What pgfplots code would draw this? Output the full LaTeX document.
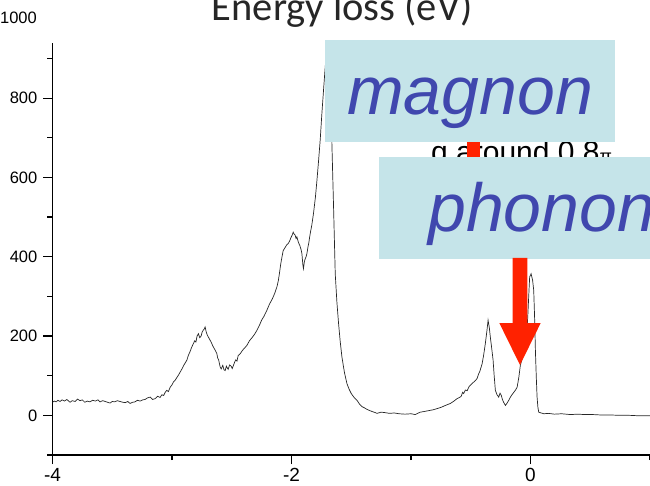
\documentclass[border=0pt]{standalone}
\usepackage{pgfplots}
\pgfplotsset{compat=1.18}
\usepackage{fontspec}
\setmainfont{Liberation Sans}
\newfontfamily\calibri{Carlito}
\definecolor{boxc}{HTML}{C5E4E9}
\definecolor{txtblue}{HTML}{4047AE}
\definecolor{arrred}{HTML}{FF2200}
\begin{document}
\begin{tikzpicture}[x=1pt,y=1pt]
\useasboundingbox (0,0) rectangle (650,485);
\begin{axis}[
  at={(52.5pt,30pt)}, anchor=south west,
  scale only axis, width=597.5pt, height=412.4pt,
  xmin=-4, xmax=1, ymin=-100, ymax=940,
  axis x line*=bottom, axis y line*=left,
  axis line style={line width=1.4pt, -},
  xtick={-4,-2,0}, minor xtick={-3,-1,1},
  ytick={0,200,400,600,800}, minor ytick={-100,100,300,500,700,900},
  tick align=outside, major tick length=9pt, minor tick length=5pt,
  every tick/.style={line width=1.2pt, black},
  /pgf/number format/assume math mode=true,
  yticklabel style={font=\fontsize{16.5}{18}\selectfont, inner sep=0pt, xshift=-6pt},
  xticklabel style={font=\fontsize{19}{20}\selectfont, inner sep=0pt, yshift=-4pt},
]
\addplot[black!85, line width=0.7pt] table {
x y
-4.000 33
-3.985 36
-3.970 34
-3.955 38
-3.937 35
-3.920 39
-3.900 36
-3.880 40
-3.853 33
-3.835 37
-3.810 35
-3.790 41
-3.770 37
-3.750 39
-3.730 33
-3.710 36
-3.686 34
-3.665 38
-3.640 36
-3.620 39
-3.602 34
-3.580 37
-3.560 35
-3.540 33
-3.518 31
-3.500 35
-3.480 34
-3.458 37
-3.435 35
-3.412 33
-3.390 32
-3.370 35
-3.351 30
-3.330 33
-3.310 34
-3.290 38
-3.267 36
-3.245 39
-3.225 40
-3.205 44
-3.183 46
-3.162 40
-3.142 42
-3.120 48
-3.100 45
-3.085 52
-3.070 50
-3.057 58
-3.044 63
-3.030 60
-3.015 71
-3.000 77
-2.988 84
-2.975 88
-2.960 95
-2.945 102
-2.932 109
-2.915 118
-2.900 127
-2.888 133
-2.876 139
-2.862 152
-2.850 160
-2.835 172
-2.821 181
-2.810 188
-2.800 185
-2.790 200
-2.779 206
-2.768 196
-2.756 200
-2.748 210
-2.740 214
-2.730 218
-2.723 223
-2.715 212
-2.708 205
-2.700 200
-2.695 197
-2.682 190
-2.670 183
-2.660 176
-2.653 172
-2.640 165
-2.625 156
-2.618 145
-2.610 140
-2.597 122
-2.588 117
-2.575 126
-2.565 115
-2.555 113
-2.545 124
-2.540 121
-2.530 116
-2.518 127
-2.505 124
-2.496 118
-2.486 126
-2.476 134
-2.466 140
-2.456 137
-2.446 151
-2.430 155
-2.410 164
-2.392 170
-2.374 176
-2.352 188
-2.330 196
-2.310 204
-2.290 214
-2.270 226
-2.250 240
-2.230 250
-2.206 265
-2.185 280
-2.160 294
-2.140 308
-2.122 324
-2.110 340
-2.100 360
-2.090 382
-2.080 399
-2.069 416
-2.060 420
-2.050 425
-2.040 430
-2.028 433
-2.015 440
-2.005 448
-1.995 454
-1.986 462
-1.978 457
-1.970 455
-1.962 446
-1.955 450
-1.942 436
-1.930 428
-1.920 418
-1.913 408
-1.905 380
-1.900 370
-1.892 388
-1.885 395
-1.878 400
-1.871 408
-1.862 425
-1.855 435
-1.849 448
-1.843 459
-1.830 480
-1.816 509
-1.800 550
-1.787 593
-1.774 640
-1.760 694
-1.746 760
-1.732 820
-1.718 878
-1.702 940
-1.685 960
-1.672 850
-1.662 685
-1.648 525
-1.634 357
-1.620 285
-1.606 231
-1.592 185
-1.578 147
-1.557 108
-1.536 80
-1.518 66
-1.500 55
-1.476 45
-1.452 38
-1.430 28
-1.410 22
-1.390 19
-1.368 15
-1.345 12
-1.320 9
-1.300 7
-1.285 5
-1.250 8
-1.220 7
-1.180 5
-1.140 6
-1.100 4
-1.050 3
-1.000 4
-0.964 2
-0.945 5
-0.922 8
-0.885 10
-0.850 12
-0.815 14
-0.782 17
-0.750 20
-0.720 24
-0.695 27
-0.671 30
-0.645 35
-0.615 42
-0.595 45
-0.580 48
-0.568 58
-0.559 55
-0.545 64
-0.530 62
-0.515 72
-0.503 76
-0.490 80
-0.475 84
-0.460 88
-0.447 93
-0.435 104
-0.425 110
-0.415 120
-0.405 130
-0.392 152
-0.378 181
-0.366 210
-0.355 240
-0.345 222
-0.336 197
-0.325 170
-0.313 139
-0.304 100
-0.294 63
-0.280 52
-0.266 46
-0.255 56
-0.244 50
-0.235 40
-0.225 33
-0.210 25
-0.200 29
-0.190 34
-0.178 40
-0.168 46
-0.155 52
-0.140 58
-0.125 64
-0.112 71
-0.098 95
-0.085 126
-0.065 148
-0.043 164
-0.033 200
-0.023 248
-0.015 300
-0.007 349
0.005 357
0.018 340
0.027 315
0.035 240
0.041 164
0.048 100
0.055 46
0.062 20
0.069 8
0.090 6
0.111 4
0.150 5
0.200 3
0.260 4
0.334 2
0.400 3
0.450 2
0.520 2
0.585 1
0.660 1
0.752 0
0.830 0
0.900 -1
1.000 -1
};
\end{axis}
\node[anchor=east, inner sep=0pt, font=\fontsize{16.5}{18}\selectfont] at (37,467.5) {1000};
\node[anchor=base west, inner sep=0pt, text=black!85, font=\calibri\fontsize{40.5}{41}\selectfont] at (211.7,464) {Energy loss (eV)};
\node[anchor=base west, inner sep=0pt, font=\fontsize{30}{30}\selectfont] at (431,322) {q around 0.8{\fontsize{18}{18}\selectfont π}};
\fill[arrred] (466.5,280) rectangle (480,345);
\fill[boxc] (325,343) rectangle (615,445);
\node[anchor=base, inner sep=0pt, text=txtblue, font=\itshape\fontsize{68}{68}\selectfont] at (470,370) {magnon};
\fill[boxc] (379,226) rectangle (700,328);
\node[anchor=base west, inner sep=0pt, text=txtblue, font=\itshape\fontsize{68}{68}\selectfont] at (428,253.3) {phonon};
\fill[arrred] (512.7,227) -- (527.3,227) -- (527.3,162) -- (540.7,162) -- (520,120) -- (499.3,162) -- (512.7,162) -- cycle;
\end{tikzpicture}
\end{document}
